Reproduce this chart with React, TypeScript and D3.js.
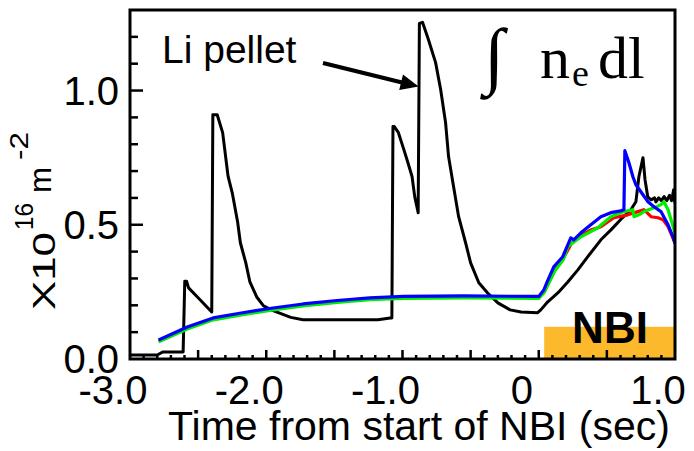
import React from "react";
import * as d3 from "d3";

// Line-integrated electron density traces, time relative to NBI start
type Pt = [number, number];

const blackTrace: Pt[] = [
  [-3.0, 0.015], [-2.8, 0.015], [-2.76, 0.026], [-2.61, 0.026], [-2.598, 0.29],
  [-2.585, 0.29], [-2.57, 0.265], [-2.5, 0.228], [-2.4, 0.175], [-2.392, 0.91],
  [-2.36, 0.91], [-2.32, 0.843], [-2.28, 0.68], [-2.25, 0.62], [-2.21, 0.51],
  [-2.19, 0.433], [-2.15, 0.358], [-2.12, 0.287], [-2.07, 0.231], [-2.02, 0.198],
  [-1.95, 0.18], [-1.82, 0.155], [-1.73, 0.146], [-1.18, 0.146], [-1.09, 0.153],
  [-1.078, 0.153], [-1.07, 0.866], [-1.06, 0.866], [-1.03, 0.843], [-0.99, 0.78],
  [-0.96, 0.731], [-0.93, 0.68], [-0.91, 0.604], [-0.885, 0.545], [-0.876, 1.25],
  [-0.853, 1.254], [-0.81, 1.19], [-0.757, 1.104], [-0.72, 1.004], [-0.684, 0.881],
  [-0.662, 0.754], [-0.625, 0.642], [-0.588, 0.53], [-0.537, 0.433], [-0.5, 0.358],
  [-0.44, 0.284], [-0.375, 0.246], [-0.3, 0.209], [-0.21, 0.183], [-0.13, 0.175],
  [-0.01, 0.172], [0.015, 0.183], [0.066, 0.213], [0.14, 0.246], [0.213, 0.287],
  [0.287, 0.332], [0.36, 0.381], [0.456, 0.444], [0.53, 0.481], [0.6, 0.519],
  [0.676, 0.556], [0.713, 0.586], [0.735, 0.679], [0.765, 0.75], [0.78, 0.668],
  [0.8, 0.604], [0.824, 0.593], [0.85, 0.6], [0.86, 0.585], [0.88, 0.6],
  [0.9, 0.59], [0.92, 0.605], [0.94, 0.59], [0.96, 0.61], [0.975, 0.59],
  [0.99, 0.63], [1.0, 0.58],
];

const redTrace: Pt[] = [
  [-2.79, 0.066], [-2.58, 0.114], [-2.39, 0.148], [-2.14, 0.17], [-1.95, 0.186],
  [-1.73, 0.2], [-1.48, 0.214], [-1.24, 0.224], [-0.99, 0.229], [-0.55, 0.231],
  [0.0, 0.229], [0.04, 0.25], [0.12, 0.335], [0.18, 0.375], [0.24, 0.43],
  [0.31, 0.46], [0.38, 0.48], [0.456, 0.493], [0.551, 0.526], [0.654, 0.537],
  [0.728, 0.549], [0.772, 0.556], [0.824, 0.53], [0.875, 0.526], [0.912, 0.519],
  [0.949, 0.493], [1.0, 0.433],
];

const greenTrace: Pt[] = [
  [-2.79, 0.064], [-2.58, 0.112], [-2.39, 0.146], [-2.14, 0.168], [-1.95, 0.183],
  [-1.73, 0.198], [-1.48, 0.211], [-1.24, 0.221], [-0.99, 0.226], [-0.55, 0.228],
  [0.0, 0.226], [0.04, 0.248], [0.12, 0.33], [0.18, 0.37], [0.213, 0.418],
  [0.309, 0.455], [0.434, 0.489], [0.529, 0.53], [0.625, 0.549], [0.691, 0.556],
  [0.699, 0.53], [0.735, 0.537], [0.772, 0.549], [0.846, 0.563], [0.897, 0.575],
  [0.919, 0.586], [0.949, 0.556], [0.971, 0.519], [1.0, 0.47],
];

const blueTrace: Pt[] = [
  [-2.79, 0.071], [-2.58, 0.119], [-2.39, 0.153], [-2.14, 0.175], [-1.95, 0.19],
  [-1.73, 0.205], [-1.48, 0.218], [-1.24, 0.228], [-0.99, 0.233], [-0.55, 0.235],
  [0.0, 0.233], [0.037, 0.257], [0.06, 0.285], [0.11, 0.343], [0.176, 0.381],
  [0.213, 0.425], [0.235, 0.451], [0.257, 0.444], [0.309, 0.47], [0.382, 0.5],
  [0.456, 0.53], [0.529, 0.545], [0.603, 0.552], [0.625, 0.556], [0.632, 0.776],
  [0.662, 0.731], [0.691, 0.679], [0.713, 0.649], [0.765, 0.612], [0.801, 0.586],
  [0.846, 0.567], [0.897, 0.549], [0.949, 0.5], [0.985, 0.455], [1.0, 0.43],
];

const xTickLabels = [-3, -2, -1, 0, 1];
const xTickText = ["-3.0", "-2.0", "-1.0", "0", "1.0"];
const yTickLabels = [0, 0.5, 1.0];
const yTickText = ["0.0", "0.5", "1.0"];

// NBI injection window and the height of its marker bar
const nbiStart = 0.04;
const nbiBarTop = 0.12;

const W = 694;
const H = 451;
const left = 130;
const right = 675;
const top = 10;
const bottom = 359;

const sans = "'Liberation Sans', Arial, Helvetica, sans-serif";
const serif = "'Liberation Serif', 'Times New Roman', 'DejaVu Serif', serif";

export default function App() {
  const x = d3.scaleLinear().domain([-3, 1]).range([left, right]);
  const y = d3.scaleLinear().domain([0, 1.3]).range([bottom, top]);
  const line = d3
    .line<Pt>()
    .x((d) => x(d[0]))
    .y((d) => y(d[1]));

  const xMinor = d3.range(-29, 10).map((i) => i / 10);
  const yMinor = d3.range(1, 13).map((i) => i / 10);
  const isMajor = (v: number) => Math.abs(v * 2 - Math.round(v * 2)) < 1e-6;

  // arrow from the label to the second pellet
  const tip: [number, number] = [x(-0.882), y(1.015)];
  const tail: [number, number] = [323, 63];
  const dx = tip[0] - tail[0];
  const dy = tip[1] - tail[1];
  const len = Math.hypot(dx, dy);
  const ux = dx / len;
  const uy = dy / len;
  const headLen = 18;
  const headHalf = 8;
  const bx = tip[0] - ux * headLen;
  const by = tip[1] - uy * headLen;
  const head = [
    [tip[0], tip[1]],
    [bx - uy * headHalf, by + ux * headHalf],
    [bx + uy * headHalf, by - ux * headHalf],
  ]
    .map((p) => p.join(","))
    .join(" ");

  return (
    <svg
      width={W}
      height={H}
      style={{ position: "absolute", left: 0, top: 0, background: "#fff" }}
    >
      <defs>
        <clipPath id="plot">
          <rect x={left} y={top} width={right - left} height={bottom - top} />
        </clipPath>
      </defs>

      {/* NBI window */}
      <rect
        x={x(nbiStart)}
        y={y(nbiBarTop)}
        width={right - x(nbiStart)}
        height={bottom - y(nbiBarTop)}
        fill="#FBB92B"
      />
      <text
        x={610}
        y={343}
        textAnchor="middle"
        fontFamily={sans}
        fontWeight="bold"
        fontSize={44}
      >
        NBI
      </text>

      {/* traces */}
      <g clipPath="url(#plot)" fill="none" strokeLinejoin="round">
        <path d={line(blackTrace) ?? ""} stroke="#000" strokeWidth={3} />
        <path d={line(redTrace) ?? ""} stroke="#ff0000" strokeWidth={3.2} />
        <path d={line(greenTrace) ?? ""} stroke="#00ee00" strokeWidth={3.2} />
        <path d={line(blueTrace) ?? ""} stroke="#0000ff" strokeWidth={3.2} />
      </g>

      {/* ticks */}
      <g stroke="#000" strokeWidth={2.5}>
        {xMinor.map((v) => (
          <line
            key={"xt" + v}
            x1={x(v)}
            x2={x(v)}
            y1={bottom}
            y2={bottom - (isMajor(v) ? 9 : 4)}
          />
        ))}
        {yMinor.map((v) => (
          <line
            key={"yt" + v}
            x1={left}
            x2={left + (isMajor(v) ? 13 : 8)}
            y1={y(v)}
            y2={y(v)}
          />
        ))}
      </g>

      {/* frame */}
      <rect
        x={left}
        y={top}
        width={right - left}
        height={bottom - top}
        fill="none"
        stroke="#000"
        strokeWidth={3}
      />

      {/* tick labels */}
      <g fontFamily={sans} fontSize={40} fill="#000">
        {xTickLabels.map((v, i) => (
          <text key={"xl" + v} x={x(v) - 17} y={404} textAnchor="middle">
            {xTickText[i]}
          </text>
        ))}
        {yTickLabels.map((v, i) => (
          <text key={"yl" + v} x={119} y={y(v) + 14} textAnchor="end">
            {yTickText[i]}
          </text>
        ))}
      </g>

      {/* axis titles */}
      <text
        x={419}
        y={440}
        textAnchor="middle"
        fontFamily={sans}
        fontSize={41}
      >
        Time from start of NBI (sec)
      </text>
      <g fontFamily={sans}>
        <text
          transform="translate(55,310) rotate(-90)"
          fontSize={31}
          textLength={78}
          lengthAdjust="spacingAndGlyphs"
        >
          X10
        </text>
        <text
          transform="translate(33,230) rotate(-90)"
          fontSize={25}
          textLength={27}
          lengthAdjust="spacingAndGlyphs"
        >
          16
        </text>
        <text
          transform="translate(51,193) rotate(-90)"
          fontSize={32}
          textLength={26}
          lengthAdjust="spacingAndGlyphs"
        >
          m
        </text>
        <text
          transform="translate(28,160) rotate(-90)"
          fontSize={25}
          textLength={28}
          lengthAdjust="spacingAndGlyphs"
        >
          -2
        </text>
      </g>

      {/* pellet annotation */}
      <text x={162} y={63} fontFamily={sans} fontSize={39}>
        Li pellet
      </text>
      <line
        x1={tail[0]}
        y1={tail[1]}
        x2={bx + ux * 2}
        y2={by + uy * 2}
        stroke="#000"
        strokeWidth={4}
      />
      <polygon points={head} fill="#000" />

      {/* quantity label */}
      <g fontFamily={serif} fill="#000">
        <text x={484} y={80} fontSize={74}>
          ∫
        </text>
        <text x={540} y={78} fontSize={60}>
          n
        </text>
        <text x={572} y={86} fontSize={38}>
          e
        </text>
        <text x={598} y={78} fontSize={60}>
          dl
        </text>
      </g>
    </svg>
  );
}
